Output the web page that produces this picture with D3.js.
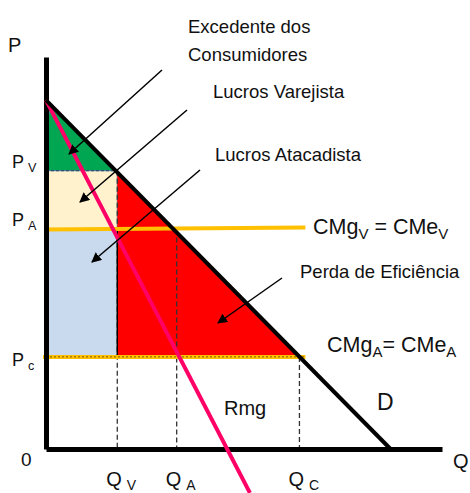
<!DOCTYPE html>
<html lang="pt">
<head>
<meta charset="UTF-8">
<title>Dupla marginalização</title>
<script src="https://d3js.org/d3.v7.min.js"></script>
<style>
  body { margin: 0; background: white; }
  svg text { font-family: "Liberation Sans", Arial, sans-serif; fill: #111; }
  .axis path { stroke: black; stroke-width: 5px; }
</style>
</head>
<body>
<svg id="chart" width="470" height="493"></svg>
<script>
// values (Q and P in chart units)
var demand = [{ q: 0, p: 8.9 }, { q: 8.7, p: 0 }];
var rmg = [{ q: 0, p: 8.9 }, { q: 5.15, p: -1.12 }];
var priceLevels = { pv: 7.1, pa: 5.6, pc: 2.35 };
var qtyLevels = { qv: 1.8, qa: 3.3, qc: 6.4 };
var costEnd = 6.55;
var priceLabels = [["P", "V", "pv"], ["P", "A", "pa"], ["P", "c", "pc"]];
var qtyLabels = [["Q", "V", "qv"], ["Q", "A", "qa"], ["Q", "C", "qc"]];

var svg = d3.select("#chart");
var x = d3.scaleLinear().domain([0, 10]).range([46, 442]);
var y = d3.scaleLinear().domain([0, 10]).range([449, 57]);

var pv = priceLevels.pv, pa = priceLevels.pa, pc = priceLevels.pc;
var qv = qtyLevels.qv, qa = qtyLevels.qa, qc = qtyLevels.qc;
function dq(p) { return demand[1].q * (1 - p / demand[0].p); }

var poly = d3.line().x(d => x(d[0])).y(d => y(d[1]));

// filled areas
svg.append("path").attr("d", poly([[0, demand[0].p], [0, pv], [dq(pv), pv]]) + "Z").attr("fill", "#00A651");
svg.append("rect").attr("x", x(0)).attr("y", y(pv)).attr("width", x(qv) - x(0)).attr("height", y(pa) - y(pv))
  .attr("fill", "#FFF2CC").attr("stroke", "#41719C").attr("stroke-width", 1);
svg.append("rect").attr("x", x(0)).attr("y", y(pa)).attr("width", x(qv) - x(0)).attr("height", y(pc) - y(pa))
  .attr("fill", "#C9DAEE");
svg.append("path").attr("d", poly([[qv, pv], [dq(pv), pv], [dq(pc), pc], [qv, pc]]) + "Z").attr("fill", "#FF0000");
// small blue mark at the top of the axis
svg.append("path").attr("d", poly([[0, demand[0].p], [0.1, demand[0].p - 0.35], [0, demand[0].p - 0.35]]) + "Z").attr("fill", "#5B8FC9");

// Pv dashed edge
svg.append("line").attr("x1", x(0)).attr("x2", x(qv)).attr("y1", y(pv)).attr("y2", y(pv))
  .attr("stroke", "#2F4F6F").attr("stroke-width", 1.3).attr("stroke-dasharray", "3,2");

// dashed vertical guides
var guides = [[qv, pv], [qa, pa], [qc, pc]];
svg.selectAll(".guide").data(guides).enter().append("line")
  .attr("x1", d => x(d[0])).attr("x2", d => x(d[0]))
  .attr("y1", d => y(d[1])).attr("y2", y(0))
  .attr("stroke", "#333").attr("stroke-width", 1.3).attr("stroke-dasharray", "5,3");

// solid edge of the red area at Qv
svg.append("line").attr("x1", x(qv)).attr("x2", x(qv)).attr("y1", y(pa)).attr("y2", y(pc))
  .attr("stroke", "black").attr("stroke-width", 1.5);

// cost lines
svg.append("line").attr("x1", x(0)).attr("x2", x(costEnd)).attr("y1", y(pa)).attr("y2", y(pa) - 2)
  .attr("stroke", "#FFC000").attr("stroke-width", 4);
svg.append("line").attr("x1", x(0) - 3).attr("x2", x(costEnd)).attr("y1", y(pc)).attr("y2", y(pc))
  .attr("stroke", "#FFC000").attr("stroke-width", 4);
svg.append("line").attr("x1", x(0)).attr("x2", x(costEnd)).attr("y1", y(pc)).attr("y2", y(pc))
  .attr("stroke", "#554400").attr("stroke-width", 0.8).attr("stroke-dasharray", "2,2");

// axes
svg.append("g").attr("class", "axis").attr("transform", "translate(0," + y(0) + ")")
  .call(d3.axisBottom(x).tickValues([]).tickSizeOuter(0));
svg.append("g").attr("class", "axis").attr("transform", "translate(" + x(0) + ",0)")
  .call(d3.axisLeft(y).tickValues([]).tickSizeOuter(0));

// Rmg and demand
svg.append("path").attr("d", poly(rmg.map(d => [d.q, d.p]))).attr("stroke", "#FF0066").attr("stroke-width", 4).attr("fill", "none");
svg.append("path").attr("d", poly(demand.map(d => [d.q, d.p]))).attr("stroke", "black").attr("stroke-width", 4).attr("fill", "none");

// arrows
svg.append("defs").append("marker").attr("id", "ah").attr("viewBox", "0 0 10 10")
  .attr("refX", 9).attr("refY", 5).attr("markerWidth", 10).attr("markerHeight", 10)
  .attr("markerUnits", "userSpaceOnUse").attr("orient", "auto")
  .append("path").attr("d", "M0,0L10,5L0,10Z").attr("fill", "black");
var arrows = [
  [[162, 70], [69, 154]],
  [[187, 110], [80, 202]],
  [[200, 170], [92, 262]],
  [[282, 278], [218, 323]]
];
svg.selectAll(".arrow").data(arrows).enter().append("line")
  .attr("x1", d => d[0][0]).attr("y1", d => d[0][1]).attr("x2", d => d[1][0]).attr("y2", d => d[1][1])
  .attr("stroke", "black").attr("stroke-width", 1.5).attr("marker-end", "url(#ah)");

// texts
function txt(t, tx, ty, size) {
  return svg.append("text").attr("x", tx).attr("y", ty).attr("font-size", size).text(t);
}
function sub(main, s, tx, ty, size, gap) {
  var t = svg.append("text").attr("x", tx).attr("y", ty).attr("font-size", size);
  t.append("tspan").text(main);
  t.append("tspan").attr("dx", gap).attr("dy", 4).attr("font-size", size * 0.7).text(s);
  return t;
}
txt("P", 8, 52, 20);
txt("0", 21, 466, 19);
txt("Q", 453, 468, 20);
txt("Excedente dos", 188, 33, 18.5);
txt("Consumidores", 188, 61, 18.5);
txt("Lucros Varejista", 213, 98, 18.5);
txt("Lucros Atacadista", 215, 161, 18.5);
txt("Perda de Eficiência", 300, 278, 18.5);
txt("Rmg", 224, 415, 20);
txt("D", 377, 410, 23);

var cv = svg.append("text").attr("x", 313).attr("y", 234).attr("font-size", 21.5);
cv.append("tspan").text("CMg");
cv.append("tspan").attr("dy", 5).attr("font-size", 15).text("V");
cv.append("tspan").attr("dy", -5).text(" = CMe");
cv.append("tspan").attr("dy", 5).attr("font-size", 15).text("V");

var ca = svg.append("text").attr("x", 327).attr("y", 352).attr("font-size", 21.5);
ca.append("tspan").text("CMg");
ca.append("tspan").attr("dy", 5).attr("font-size", 15).text("A");
ca.append("tspan").attr("dy", -5).text("= CMe");
ca.append("tspan").attr("dy", 5).attr("font-size", 15).text("A");

var pOffsets = { pv: -3, pa: -3, pc: 9 };
priceLabels.forEach(function (d) {
  sub(d[0], d[1], 12, y(priceLevels[d[2]]) + pOffsets[d[2]], 18, 4);
});
qtyLabels.forEach(function (d) {
  sub(d[0], d[1], x(qtyLevels[d[2]]) - 11, 486, 20, 5);
});
</script>
</body>
</html>
